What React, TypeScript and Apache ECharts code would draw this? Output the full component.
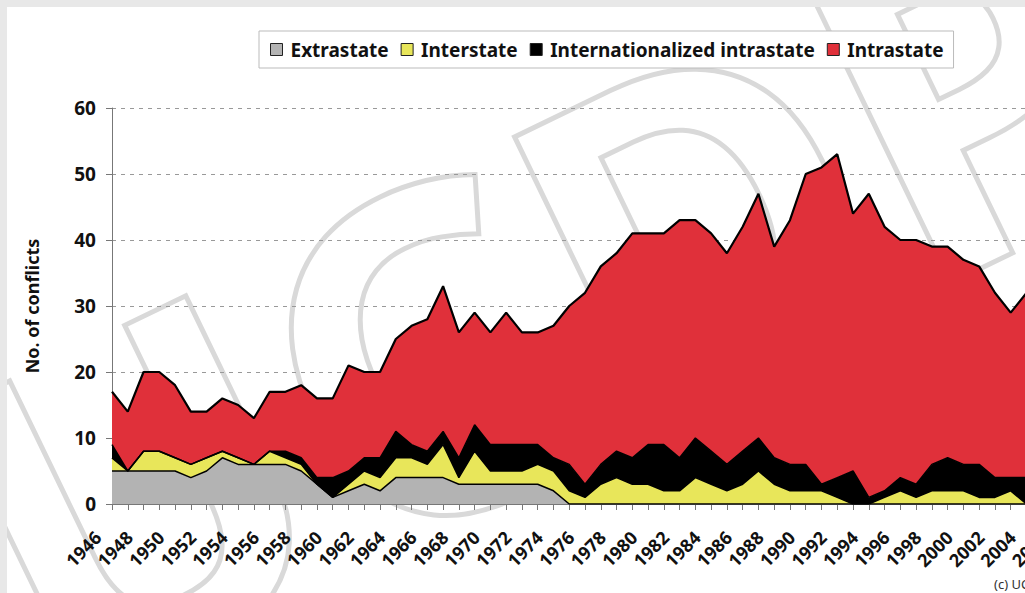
import React, { useEffect, useRef } from "react";
import * as echarts from "echarts";

const years = [
  "1946", "1947", "1948", "1949", "1950", "1951", "1952", "1953", "1954", "1955",
  "1956", "1957", "1958", "1959", "1960", "1961", "1962", "1963", "1964", "1965",
  "1966", "1967", "1968", "1969", "1970", "1971", "1972", "1973", "1974", "1975",
  "1976", "1977", "1978", "1979", "1980", "1981", "1982", "1983", "1984", "1985",
  "1986", "1987", "1988", "1989", "1990", "1991", "1992", "1993", "1994", "1995",
  "1996", "1997", "1998", "1999", "2000", "2001", "2002", "2003", "2004", "2005",
  "2006",
];

const extrastate = [
  5, 5, 5, 5, 5, 4, 5, 7, 6, 6,
  6, 6, 5, 3, 1, 2, 3, 2, 4, 4,
  4, 4, 3, 3, 3, 3, 3, 3, 2, 0,
  0, 0, 0, 0, 0, 0, 0, 0, 0, 0,
  0, 0, 0, 0, 0, 0, 0, 0, 0, 0,
  0, 0, 0, 0, 0, 0, 0, 0, 0, 0,
  0,
];

const interstate = [
  2, 0, 3, 3, 2, 2, 2, 1, 1, 0,
  2, 1, 1, 0, 0, 1, 2, 2, 3, 3,
  2, 5, 1, 5, 2, 2, 2, 3, 3, 2,
  1, 3, 4, 3, 3, 2, 2, 4, 3, 2,
  3, 5, 3, 2, 2, 2, 1, 0, 0, 1,
  2, 1, 2, 2, 2, 1, 1, 2, 0, 0,
  0,
];

const internationalized = [
  2, 0, 0, 0, 0, 0, 0, 0, 0, 0,
  0, 1, 1, 1, 3, 2, 2, 3, 4, 2,
  2, 2, 3, 4, 4, 4, 4, 3, 2, 4,
  2, 3, 4, 4, 6, 7, 5, 6, 5, 4,
  5, 5, 4, 4, 4, 1, 3, 5, 1, 1,
  2, 2, 4, 5, 4, 5, 3, 2, 4, 4,
  4,
];

const intrastate = [
  8, 9, 12, 12, 11, 8, 7, 8, 8, 7,
  9, 9, 11, 12, 12, 16, 13, 13, 14, 18,
  20, 22, 19, 17, 17, 20, 17, 17, 20, 24,
  29, 30, 30, 34, 32, 32, 36, 33, 33, 32,
  34, 37, 32, 37, 44, 48, 49, 39, 46, 40,
  36, 37, 33, 32, 31, 30, 28, 25, 28, 27,
  28,
];

const FONT = "'Noto Sans', 'DejaVu Sans', sans-serif";

export default function App() {
  const ref = useRef<HTMLDivElement>(null);

  useEffect(() => {
    if (!ref.current) return;
    const chart = echarts.init(ref.current, null, { renderer: "svg" });

    const mk = (name: string, data: number[], color: string, lw: number) => ({
      name,
      type: "line",
      stack: "total",
      data,
      symbol: "none",
      showSymbol: false,
      silent: true,
      lineStyle: { color: "#000", width: lw },
      areaStyle: { color, opacity: 1 },
      itemStyle: { color, borderColor: "#222", borderWidth: 1 },
      emphasis: { disabled: true },
    });

    chart.setOption({
      animation: false,
      backgroundColor: "transparent",
      grid: { left: 105, top: 101, width: 946, height: 396 },
      legend: {
        left: 252,
        top: 24,
        padding: [9, 10, 9, 11],
        backgroundColor: "#fff",
        borderColor: "#bbb",
        borderWidth: 1,
        itemWidth: 12,
        itemHeight: 12,
        itemGap: 12,
        icon: "rect",
        itemStyle: { borderColor: "#222", borderWidth: 1 },
        textStyle: {
          fontFamily: FONT,
          fontWeight: "bold",
          fontSize: 19,
          color: "#111",
          padding: [0, 0, 0, 3],
        },
        data: ["Extrastate", "Interstate", "Internationalized intrastate", "Intrastate"],
      },
      xAxis: {
        type: "category",
        data: years,
        boundaryGap: false,
        axisLine: { lineStyle: { color: "#777", width: 1 } },
        axisTick: { interval: 0, length: 6, lineStyle: { color: "#777" } },
        axisLabel: {
          interval: 1,
          rotate: 45,
          fontFamily: FONT,
          fontWeight: "bold",
          fontSize: 18,
          color: "#111",
          margin: 16,
          padding: [0, 20, 0, 0],
        },
        splitLine: { show: false },
      },
      yAxis: {
        type: "value",
        min: 0,
        max: 60,
        interval: 10,
        axisLine: { show: true, lineStyle: { color: "#777", width: 1 } },
        axisTick: { show: true, length: 6, lineStyle: { color: "#777" } },
        axisLabel: {
          fontFamily: FONT,
          fontWeight: "bold",
          fontSize: 19,
          color: "#111",
          margin: 16,
        },
        splitLine: { show: true, lineStyle: { color: "#999", width: 1, type: [4, 5] } },
      },
      graphic: [
        {
          type: "text",
          x: 528,
          y: 283,
          rotation: 0.45,
          z: -10,
          silent: true,
          style: {
            text: "UCDP",
            fontFamily: FONT,
            fontWeight: "bold",
            fontSize: 450,
            fill: "rgba(255,255,255,0)",
            stroke: "#d9d9d9",
            lineWidth: 5,
            align: "center",
            verticalAlign: "middle",
          },
        },
        {
          type: "text",
          x: 25,
          y: 299,
          rotation: Math.PI / 2,
          style: {
            text: "No. of conflicts",
            fontFamily: FONT,
            fontWeight: "bold",
            fontSize: 18,
            fill: "#111",
            align: "center",
            verticalAlign: "middle",
          },
        },
        {
          type: "text",
          x: 987,
          y: 570,
          style: {
            text: "(c) UCDP 2007",
            fontFamily: FONT,
            fontSize: 13,
            fill: "#333",
            align: "left",
            verticalAlign: "top",
          },
        },
      ],
      series: [
        mk("Extrastate", extrastate, "#b3b3b3", 1.5),
        mk("Interstate", interstate, "#e8e65a", 1.5),
        mk("Internationalized intrastate", internationalized, "#000000", 1.5),
        mk("Intrastate", intrastate, "#e0303a", 2.2),
      ],
    });

    return () => chart.dispose();
  }, []);

  return (
    <div
      style={{
        position: "fixed",
        left: 0,
        top: 0,
        width: 1025,
        height: 593,
        background: "#e8e8e8",
        overflow: "hidden",
      }}
    >
      <div
        ref={ref}
        style={{
          position: "absolute",
          left: 7,
          top: 7,
          width: 1100,
          height: 586,
          background: "#fff",
        }}
      />
    </div>
  );
}
